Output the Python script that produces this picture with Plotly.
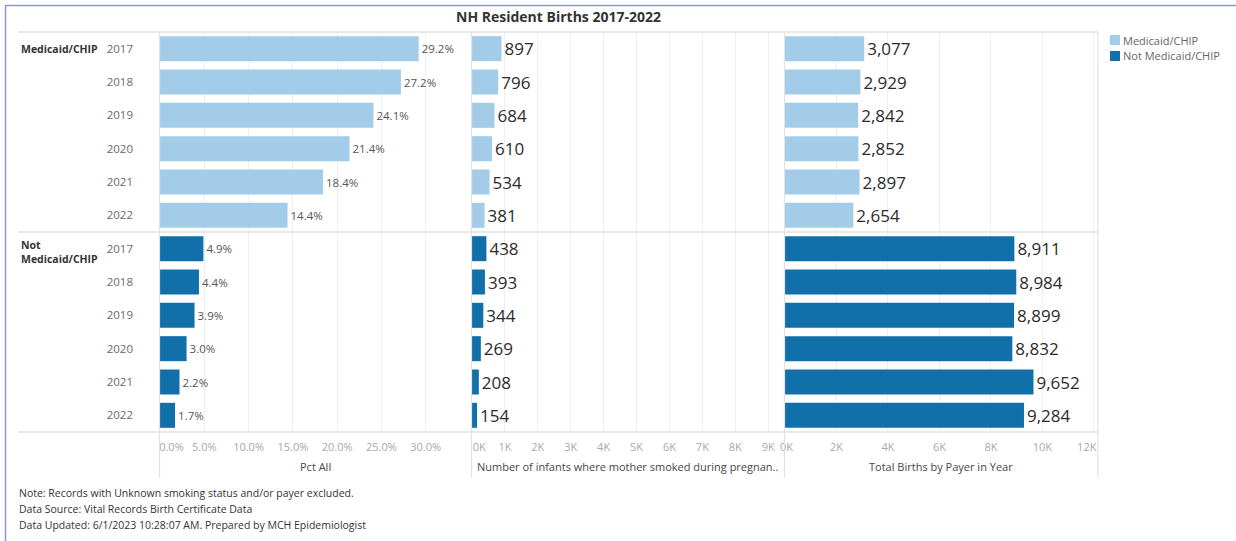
import plotly.graph_objects as go

# ---- data -------------------------------------------------------------
years = [2017, 2018, 2019, 2020, 2021, 2022]
payers = ["Medicaid/CHIP", "Not Medicaid/CHIP"]

pct_medicaid = [29.2, 27.2, 24.1, 21.4, 18.4, 14.4]
pct_not_medicaid = [4.9, 4.4, 3.9, 3.0, 2.2, 1.7]

smoked_medicaid = [897, 796, 684, 610, 534, 381]
smoked_not_medicaid = [438, 393, 344, 269, 208, 154]

births_medicaid = [3077, 2929, 2842, 2852, 2897, 2654]
births_not_medicaid = [8911, 8984, 8899, 8832, 9652, 9284]

pct_ticks = [0, 5, 10, 15, 20, 25, 30]
smoked_ticks = [0, 1000, 2000, 3000, 4000, 5000, 6000, 7000, 8000, 9000]
births_ticks = [0, 2000, 4000, 6000, 8000, 10000, 12000]

title_text = "NH Resident Births 2017-2022"
axis_titles = ["Pct All",
               "Number of infants where mother smoked during pregnan..",
               "Total Births by Payer in Year"]
footer_lines = [
    "Note: Records with Unknown smoking status and/or payer excluded.",
    "Data Source: Vital Records Birth Certificate Data",
    "Data Updated: 6/1/2023 10:28:07 AM. Prepared by MCH Epidemiologist",
]

# ---- styling ------------------------------------------------------------
W, H = 1236, 541
FONT = "Open Sans"
LIGHT = "#a3cce9"
DARK = "#1170aa"
RULE = "#e2e2e2"
GRID = "#efefef"
FRAME = "#8e97cc"
NBSP = "\u00a0"


def px(x):
    return x / W


def py(y):
    return 1 - y / H


def edge_labels(labels, lead=0, trail=0):
    """Nudge the first/last tick label inward so it stays inside its pane."""
    out = list(labels)
    out[0] = NBSP * lead + out[0]
    out[-1] = out[-1] + NBSP * trail
    return out


# one category per (payer, year) row
row_keys = [f"{p} {y}" for p in payers for y in years]
row_years = [str(y) for p in payers for y in years]
colors = [LIGHT] * len(years) + [DARK] * len(years)

pct_all = pct_medicaid + pct_not_medicaid
smoked_all = smoked_medicaid + smoked_not_medicaid
births_all = births_medicaid + births_not_medicaid

fig = go.Figure()

fig.add_trace(go.Bar(
    x=pct_all, y=row_keys, orientation="h", xaxis="x", yaxis="y",
    marker=dict(color=colors, line=dict(width=0)),
    texttemplate="%{x:.1f}%", textposition="outside", cliponaxis=False,
    constraintext="none", textangle=0,
    textfont=dict(family=FONT, size=11.5, color="#555555"),
    showlegend=False, hoverinfo="skip",
))
fig.add_trace(go.Bar(
    x=smoked_all, y=row_keys, orientation="h", xaxis="x2", yaxis="y",
    marker=dict(color=colors, line=dict(width=0)),
    texttemplate="%{x:,}", textposition="outside", cliponaxis=False,
    constraintext="none", textangle=0,
    textfont=dict(family=FONT, size=17, color="#2b2b2b"),
    showlegend=False, hoverinfo="skip",
))
fig.add_trace(go.Bar(
    x=births_all, y=row_keys, orientation="h", xaxis="x3", yaxis="y",
    marker=dict(color=colors, line=dict(width=0)),
    texttemplate="%{x:,}", textposition="outside", cliponaxis=False,
    constraintext="none", textangle=0,
    textfont=dict(family=FONT, size=17, color="#2b2b2b"),
    showlegend=False, hoverinfo="skip",
))

tick_font = dict(family=FONT, size=11, color="#a8a8a8")
common_x = dict(anchor="y", showline=False, zeroline=False, showgrid=True,
                gridcolor=GRID, gridwidth=1, ticks="", tickfont=tick_font,
                ticklabelstandoff=7, fixedrange=True, automargin=False)

pct_text = edge_labels([f"{v:.1f}%" for v in pct_ticks], lead=8)
smoked_text = edge_labels([f"{v // 1000}K" for v in smoked_ticks], lead=5)
births_text = edge_labels([f"{v // 1000}K" for v in births_ticks],
                          lead=1, trail=5)

fig.update_layout(
    width=W, height=H,
    margin=dict(l=0, r=0, t=0, b=0, pad=0, autoexpand=False),
    paper_bgcolor="white", plot_bgcolor="white",
    bargap=0.25,
    font=dict(family=FONT),
    xaxis=dict(domain=[px(160), px(470)], range=[0, 35.0],
               tickvals=pct_ticks, ticktext=pct_text, **common_x),
    xaxis2=dict(domain=[px(472), px(783)], range=[0, 9450],
                tickvals=smoked_ticks, ticktext=smoked_text, **common_x),
    xaxis3=dict(domain=[px(785), px(1097)], range=[0, 12120],
                tickvals=births_ticks, ticktext=births_text, **common_x),
    yaxis=dict(domain=[py(432), py(32)], anchor="x", type="category",
               categoryorder="array", categoryarray=row_keys,
               autorange="reversed", tickvals=row_keys, ticktext=row_years,
               ticks="", ticklabelstandoff=26, showgrid=False,
               zeroline=False, showline=False, fixedrange=True,
               automargin=False,
               tickfont=dict(family=FONT, size=11.5, color="#6a6a6a")),
)

shapes = []
# outer frame (top and left edges)
shapes.append(dict(type="line", xref="paper", yref="paper",
                   x0=px(5), x1=1, y0=py(5.5), y1=py(5.5),
                   line=dict(color=FRAME, width=1.5)))
shapes.append(dict(type="line", xref="paper", yref="paper",
                   x0=px(5.5), x1=px(5.5), y0=py(5), y1=0,
                   line=dict(color=FRAME, width=1.5)))
# horizontal pane rules
for yy in (32, 232, 432):
    shapes.append(dict(type="line", xref="paper", yref="paper",
                       x0=px(18), x1=px(1098), y0=py(yy), y1=py(yy),
                       line=dict(color=RULE, width=1.5)))
# vertical pane rules
for xx in (159.5, 471.5, 784.5, 1098):
    shapes.append(dict(type="line", xref="paper", yref="paper",
                       x0=px(xx), x1=px(xx), y0=py(32), y1=py(478),
                       line=dict(color=RULE, width=1.2)))
# legend swatches
for i, c in enumerate((LIGHT, DARK)):
    yc = 40 + 16 * i
    shapes.append(dict(type="rect", xref="paper", yref="paper",
                       x0=px(1110), x1=px(1120), y0=py(yc - 5), y1=py(yc + 5),
                       fillcolor=c, line=dict(width=0)))
fig.update_layout(shapes=shapes)


def label(text, x, y, size, color, xanchor="left", yanchor="middle",
          yref="paper", align="left"):
    return dict(text=text, xref="paper", yref=yref, x=x, y=y,
                xanchor=xanchor, yanchor=yanchor, align=align,
                showarrow=False, borderpad=0,
                font=dict(family=FONT, size=size, color=color))


ann = []
ann.append(label(f"<b>{title_text}</b>", px(558), py(16), 14, "#333333",
                 xanchor="center"))
# payer row headers
ann.append(label(f"<b>{payers[0]}</b>", px(20), row_keys[0], 10.5,
                 "#333333", yref="y"))
ann.append(label("<b>Not<br>Medicaid/CHIP</b>", px(20), py(252), 10.5,
                 "#333333"))
# axis titles
for txt, xc in zip(axis_titles, (315, 628, 941)):
    ann.append(label(txt, px(xc), py(466), 11, "#474747", xanchor="center",
                     align="center"))
# legend labels
for i, p in enumerate(payers):
    ann.append(label(p, px(1122), py(40 + 16 * i), 11, "#666666"))
# footer
for i, line in enumerate(footer_lines):
    ann.append(label(line, px(18), py(493 + 16 * i), 10.5, "#333333"))
fig.update_layout(annotations=ann)

fig.write_html("out.html", config={"displayModeBar": False})
